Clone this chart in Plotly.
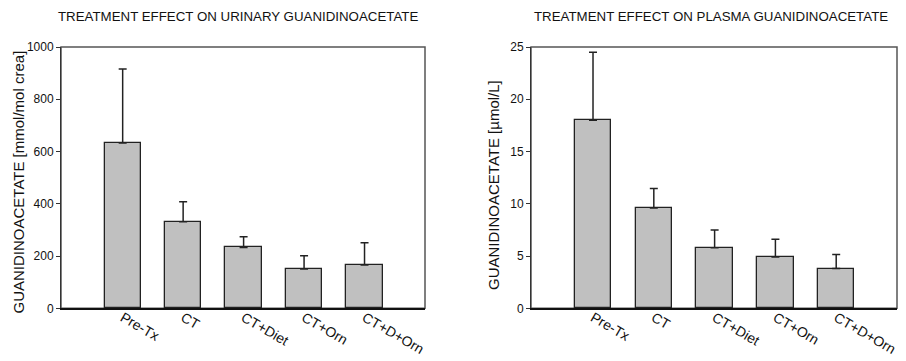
import plotly.graph_objects as go

categories = ["Pre-Tx", "CT", "CT+Diet", "CT+Orn", "CT+D+Orn"]
urinary_mean = [633, 331, 233, 150, 166]
urinary_sd = [283, 77, 41, 51, 85]
plasma_mean = [18.0, 9.6, 5.8, 4.9, 3.8]
plasma_sd = [6.5, 1.85, 1.7, 1.7, 1.35]
urinary_ticks = [0, 200, 400, 600, 800, 1000]
plasma_ticks = [0, 5, 10, 15, 20, 25]

FONT = "Arial, Liberation Sans, Helvetica, sans-serif"
OFF = 8                      # page body margin of the html page
W, H = 906 - OFF, 361 - OFF
xpos = list(range(len(categories)))

fig = go.Figure()

def add_bars(means, sds, xa, ya):
    fig.add_trace(go.Bar(
        x=xpos, y=means, xaxis=xa, yaxis=ya, width=0.6,
        marker=dict(color="#c0c0c0", line=dict(color="#222222", width=1.3)),
        error_y=dict(type="data", symmetric=False, array=sds,
                     arrayminus=[0] * len(sds), width=4, thickness=1.5,
                     color="#222222"),
        showlegend=False, hoverinfo="skip",
    ))

add_bars(urinary_mean, urinary_sd, "x", "y")
add_bars(plasma_mean, plasma_sd, "x2", "y2")

def px_x(v):
    return (v - OFF) / W

def px_y(v):
    return 1 - (v - OFF) / H

L1 = (61, 425)
L2 = (531, 897)
top_px, bot_px = 47, 308.3
ydom = [px_y(bot_px), px_y(top_px)]

xcommon = dict(range=[-1.02, 5.0], tickvals=xpos, ticktext=categories,
               tickangle=30, ticks="", showgrid=False, zeroline=False,
               showline=True, linecolor="#111111", linewidth=2,
               tickfont=dict(family=FONT, size=14, color="#111111"),
               ticklabelstandoff=-6,
               automargin=False, fixedrange=True)
ycommon = dict(ticks="outside", ticklen=4, tickwidth=1, tickcolor="#333333",
               showgrid=False, zeroline=False, showline=True,
               linecolor="#333333", linewidth=1,
               tickfont=dict(family=FONT, size=12, color="#111111"),
               automargin=False, fixedrange=True)

fig.update_layout(
    width=W, height=H,
    margin=dict(l=0, r=0, t=0, b=0, autoexpand=False),
    paper_bgcolor="white", plot_bgcolor="white",
    bargap=0,
    xaxis=dict(domain=[px_x(L1[0]), px_x(L1[1])], anchor="y", **xcommon),
    yaxis=dict(domain=ydom, anchor="x", range=[0, 1000], tickvals=urinary_ticks,
               ticktext=[str(t) for t in urinary_ticks], **ycommon),
    xaxis2=dict(domain=[px_x(L2[0]), px_x(L2[1])], anchor="y2", **xcommon),
    yaxis2=dict(domain=ydom, anchor="x2", range=[0, 25], tickvals=plasma_ticks,
                ticktext=[str(t) for t in plasma_ticks], **ycommon),
)

# frame (top/right borders)
for xr, yr in (("x domain", "y domain"), ("x2 domain", "y2 domain")):
    fig.add_shape(type="rect", xref=xr, yref=yr, x0=0, x1=1, y0=0, y1=1,
                  line=dict(color="#555555", width=1.5), layer="below")

# titles
ann = [
    dict(text="TREATMENT EFFECT ON URINARY GUANIDINOACETATE", x=238, y=16.5,
         size=13.3, angle=0),
    dict(text="TREATMENT EFFECT ON PLASMA GUANIDINOACETATE", x=710.5, y=16.5,
         size=13.3, angle=0),
    dict(text="GUANIDINOACETATE [mmol/mol crea]", x=17.5, y=182,
         size=15, angle=-90),
    dict(text="GUANIDINOACETATE [µmol/L]", x=493, y=185,
         size=15, angle=-90),
]
for a in ann:
    fig.add_annotation(text=a["text"], x=px_x(a["x"]), y=px_y(a["y"]),
                       xref="paper", yref="paper",
                       xanchor="center", yanchor="middle", showarrow=False,
                       textangle=a["angle"],
                       font=dict(family=FONT, size=a["size"], color="#111111"))

fig.write_html("out.html")
